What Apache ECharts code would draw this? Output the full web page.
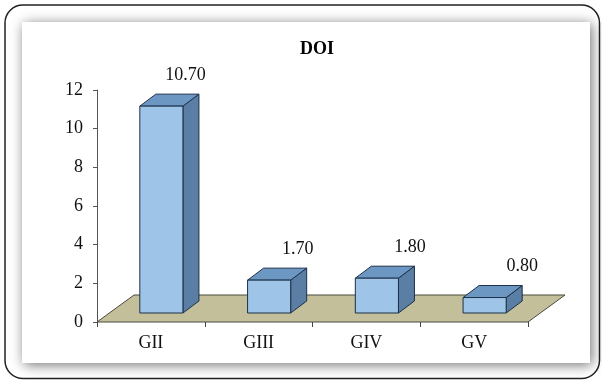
<!DOCTYPE html>
<html>
<head>
<meta charset="utf-8">
<script src="https://cdn.jsdelivr.net/npm/echarts@6/dist/echarts.min.js"></script>
<style>html,body{margin:0;padding:0;background:#fff;}#c{width:602px;height:380px;}</style>
</head>
<body>
<div id="c"></div>
<script>
const categories = ['GII', 'GIII', 'GIV', 'GV'];
const values = [10.70, 1.70, 1.80, 0.80];
const valueLabels = ['10.70', '1.70', '1.80', '0.80'];
const yTicks = [0, 2, 4, 6, 8, 10, 12];

const FONT = '"Liberation Serif", "Times New Roman", serif';
const DEPTH_X = 16, DEPTH_Y = -12;     // bar depth
const FLOOR_X = 37, FLOOR_Y = -27;     // floor depth
const SHIFT_X = 10.5, SHIFT_Y = -9;    // bar front-face offset into the floor

const chart = echarts.init(document.getElementById('c'), null, {renderer: 'canvas'});

const option = {
  animation: false,
  backgroundColor: '#fff',
  graphic: [
    {type: 'rect', z: -20, silent: true,
     shape: {x: 5, y: 5, width: 594.5, height: 373.5, r: 18},
     style: {fill: '#fff', stroke: '#222', lineWidth: 1.5}},
    {type: 'rect', z: -19, silent: true,
     shape: {x: 22, y: 22, width: 568, height: 341},
     style: {fill: '#fff', shadowBlur: 12, shadowColor: 'rgba(0,0,0,0.55)', shadowOffsetX: 2, shadowOffsetY: 2}}
  ],
  title: {
    text: 'DOI', left: 295, top: 35,
    textStyle: {fontFamily: FONT, fontWeight: 'bold', fontSize: 18, color: '#000'}
  },
  grid: {left: 97, right: 74, top: 90, bottom: 58},
  xAxis: {
    type: 'category', data: categories,
    axisLine: {show: false},
    axisTick: {show: true, alignWithLabel: false, length: 5, lineStyle: {color: '#444'}},
    axisLabel: {fontFamily: FONT, fontSize: 18, color: '#111', margin: 12}
  },
  yAxis: {
    type: 'value', min: yTicks[0], max: yTicks[yTicks.length - 1], interval: 2,
    axisLine: {show: true, lineStyle: {color: '#555'}},
    axisTick: {show: true, length: 4, lineStyle: {color: '#555'}},
    splitLine: {show: false},
    axisLabel: {fontFamily: FONT, fontSize: 18, color: '#111', margin: 14}
  },
  series: [
    {
      type: 'custom', z: 1, silent: true,
      data: [[0, 0]],
      renderItem: function (params, api) {
        const cs = params.coordSys;
        const x0 = cs.x, x1 = cs.x + cs.width, y0 = cs.y + cs.height;
        return {
          type: 'polygon',
          shape: {points: [[x0, y0], [x1, y0], [x1 + FLOOR_X, y0 + FLOOR_Y], [x0 + FLOOR_X, y0 + FLOOR_Y]]},
          style: {fill: '#c3bf9b', stroke: '#4a4a40', lineWidth: 1}
        };
      }
    },
    {
      type: 'custom', z: 3,
      data: categories.map((c, i) => [i, values[i]]),
      encode: {x: 0, y: 1},
      renderItem: function (params, api) {
        const idx = api.value(0), val = api.value(1);
        const base = api.coord([idx, 0]);
        const top = api.coord([idx, val]);
        const bw = api.size([1, 0])[0];
        const w = bw * 0.4;
        const xl = base[0] + SHIFT_X - w / 2, xr = xl + w;
        const yb = base[1] + SHIFT_Y, yt = top[1] + SHIFT_Y;
        const edge = '#1d3048';
        const labelX = base[0] + SHIFT_X + 24 + 4.5 * idx;
        return {
          type: 'group',
          children: [
            {type: 'polygon', shape: {points: [[xr, yt], [xr + DEPTH_X, yt + DEPTH_Y], [xr + DEPTH_X, yb + DEPTH_Y], [xr, yb]]},
             style: {fill: '#5b7fa4', stroke: edge, lineWidth: 1}},
            {type: 'polygon', shape: {points: [[xl, yt], [xl + DEPTH_X, yt + DEPTH_Y], [xr + DEPTH_X, yt + DEPTH_Y], [xr, yt]]},
             style: {fill: '#6d97c3', stroke: edge, lineWidth: 1}},
            {type: 'polygon', shape: {points: [[xl, yt], [xr, yt], [xr, yb], [xl, yb]]},
             style: {fill: '#9ec5e8', stroke: edge, lineWidth: 1}},
            {type: 'text', x: labelX, y: yt - 31,
             style: {text: valueLabels[params.dataIndex], fontFamily: FONT, fontSize: 18, fill: '#111',
                     align: 'center', verticalAlign: 'middle'}}
          ]
        };
      }
    }
  ]
};
chart.setOption(option);
</script>
</body>
</html>
